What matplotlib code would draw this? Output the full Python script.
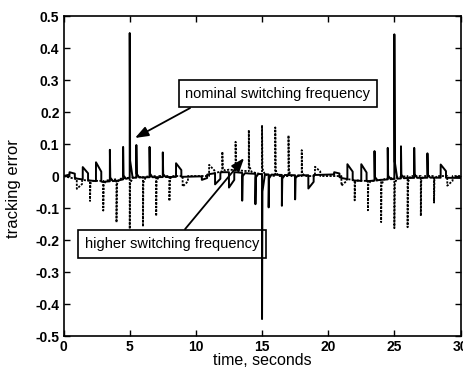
import numpy as np
import matplotlib
matplotlib.use("Agg")
import matplotlib.pyplot as plt
from matplotlib.ticker import FixedLocator, FuncFormatter

plt.rcParams['font.family'] = ['Liberation Sans', 'DejaVu Sans']
plt.rcParams['axes.unicode_minus'] = False

# ---------------- data ----------------
# slow baseline of the nominal (solid) trace
nom_base_t = [0, 0.4, 1.0, 2.0, 3.0, 4.0, 5.0, 6.0, 8.0, 9.5, 10.4, 11.0, 12.0, 13.0,
              14.0, 16.0, 18.0, 19.5, 20.4, 21.0, 22.0, 23.0, 24.0, 26.0, 28.0, 30.0]
nom_base_y = [0.0, 0.004, -0.008, -0.014, -0.018, -0.015, -0.006, -0.004, -0.003, -0.002,
              -0.001, 0.006, 0.012, 0.012, 0.008, 0.004, 0.002, 0.004, 0.005, -0.006,
              -0.014, -0.016, -0.012, -0.006, -0.005, -0.006]
# spikes / hooks of the nominal (solid) trace: time, peak value
nom_spike_t = [0.45, 1.45, 2.45, 3.5, 4.5, 5.0, 5.5, 6.5, 7.5, 8.5,
               10.45, 11.45, 12.5, 13.5, 14.5, 15.0, 15.5, 16.5, 17.5, 18.5,
               20.45, 21.45, 22.5, 23.5, 24.5, 25.0, 25.5, 26.5, 27.5, 28.5]
nom_spike_y = [0.012, 0.028, 0.043, 0.082, 0.091, 0.447, 0.097, 0.091, 0.074, 0.040,
               -0.012, -0.026, -0.036, -0.077, -0.088, -0.447, -0.098, -0.093, -0.073, -0.039,
               0.012, 0.037, 0.037, 0.078, 0.088, 0.443, 0.093, 0.088, 0.071, 0.036]

# slow baseline of the higher-frequency (dotted) trace
hi_base_t = [0, 1.0, 2.0, 3.0, 4.0, 5.0, 7.0, 11.0, 11.5, 12.5, 14.0, 15.0, 16.0,
             21.0, 21.5, 22.5, 23.5, 24.5, 26.0, 30.0]
hi_base_y = [0.0, -0.010, -0.015, -0.015, -0.010, -0.005, 0.0, 0.0, 0.010, 0.020,
             0.015, 0.005, 0.0, 0.0, -0.010, -0.015, -0.015, -0.008, 0.0, 0.0]
# spikes of the higher-frequency (dotted) trace: time, peak value
hi_spike_t = [1, 2, 3, 4, 5, 6, 7, 8, 9,
              11, 12, 13, 14, 15, 16, 17, 18, 19,
              21, 22, 23, 24, 25, 26, 27, 28, 29]
hi_spike_y = [-0.040, -0.078, -0.108, -0.145, -0.165, -0.158, -0.125, -0.078, -0.033,
              0.035, 0.076, 0.107, 0.144, 0.159, 0.152, 0.127, 0.081, 0.029,
              -0.030, -0.076, -0.107, -0.144, -0.163, -0.160, -0.125, -0.083, -0.030]

x_ticks = [0, 5, 10, 15, 20, 25, 30]
y_ticks = [-0.5, -0.4, -0.3, -0.2, -0.1, 0, 0.1, 0.2, 0.3, 0.4, 0.5]

label_nominal = "nominal switching frequency"
label_higher = "higher switching frequency"
x_label = "time, seconds"
y_label = "tracking error"


def build_trace(bt, by, st, sy):
    bt = np.asarray(bt, float)
    by = np.asarray(by, float)
    pts = []
    windows = []
    for ts, p in zip(st, sy):
        b0 = np.interp(ts, bt, by)
        if abs(p) < 0.05:
            w = 0.4
            b1 = np.interp(ts + w + 0.002, bt, by)
            seg = [(ts - 0.002, b0), (ts, p), (ts + w, b0 + 0.5 * (p - b0)),
                   (ts + w + 0.002, b1)]
        else:
            w = 0.22
            b1 = np.interp(ts + w, bt, by)
            seg = [(ts - 0.002, b0), (ts, p), (ts + 0.03, b0 + 0.12 * (p - b0)),
                   (ts + w, b1)]
        windows.append((ts - 0.003, ts + w + 0.003))
        pts.extend(seg)
    for t, y in zip(bt, by):
        if not any(a <= t <= c for a, c in windows):
            pts.append((t, y))
    pts.sort(key=lambda q: q[0])
    arr = np.array(pts)
    return arr[:, 0], arr[:, 1]


nx, ny = build_trace(nom_base_t, nom_base_y, nom_spike_t, nom_spike_y)
hx, hy = build_trace(hi_base_t, hi_base_y, hi_spike_t, hi_spike_y)

fig = plt.figure(figsize=(4.64, 3.74), dpi=100)
ax = fig.add_axes([0.137, 0.1016, 0.8555, 0.8554])

ax.plot(hx, hy, color='black', lw=1.3, linestyle=(0, (1.2, 0.8)), zorder=2)
ax.plot(nx, ny, color='black', lw=1.4, zorder=3)

ax.set_xlim(0, 30)
ax.set_ylim(-0.5, 0.5)
ax.xaxis.set_major_locator(FixedLocator(x_ticks))
ax.yaxis.set_major_locator(FixedLocator(y_ticks))
ax.yaxis.set_major_formatter(FuncFormatter(lambda v, p: "0" if abs(v) < 1e-9 else f"{v:.1f}"))
ax.xaxis.set_major_formatter(FuncFormatter(lambda v, p: f"{v:g}"))
ax.tick_params(direction='in', length=4, width=1.0, top=True, right=True,
               labelsize=10, pad=3)
for lab in ax.get_xticklabels() + ax.get_yticklabels():
    lab.set_fontweight('bold')
for sp in ax.spines.values():
    sp.set_linewidth(1.2)

ax.set_xlabel(x_label, fontsize=11.5, labelpad=-1)
ax.set_ylabel(y_label, fontsize=12)
ax.yaxis.set_label_coords(-0.108, 0.46)

box = dict(boxstyle='square,pad=0.45', facecolor='none', edgecolor='black', lw=1.2)
arrow = dict(arrowstyle='-|>,head_length=0.8,head_width=0.3', color='black', lw=1.3,
             shrinkA=0, shrinkB=0)

ax.text(16.2, 0.258, label_nominal, fontsize=10.5, ha='center', va='center', bbox=box, zorder=5)
ax.annotate("", xy=(5.4, 0.119), xytext=(9.56, 0.2125), arrowprops=arrow, zorder=5)

ax.text(8.2, -0.2125, label_higher, fontsize=10.5, ha='center', va='center', bbox=box, zorder=1)
ax.annotate("", xy=(13.64, 0.056), xytext=(9.18, -0.166), arrowprops=arrow, zorder=5)

fig.savefig("out.png", dpi=100)
